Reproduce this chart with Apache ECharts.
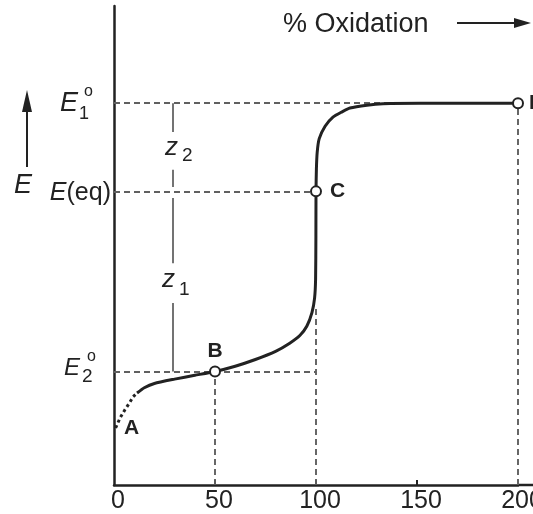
<!DOCTYPE html>
<html>
<head>
<meta charset="utf-8">
<script src="https://cdn.jsdelivr.net/npm/echarts@6/dist/echarts.min.js"></script>
<style>
html,body{margin:0;padding:0;background:#fff;}
#chart{width:533px;height:514px;}
</style>
</head>
<body>
<div id="chart"></div>
<script>
// ---- data (x = % oxidation, E = potential, arbitrary units) ----
const E1 = 79.7;      // E1°
const EEQ = 61.3;     // E(eq)
const E2 = 23.7;      // E2°
const xTickLabels = [0, 50, 100, 150, 200];
const xTickMarks = [50, 100, 150];

// dotted start of curve near A
const dotX = [0.8, 3.0, 5.4, 7.9, 9.4, 11.4];
const dotE = [11.9, 14.0, 15.7, 17.3, 18.4, 19.2];

// solid titration curve
const curveX = [11.4, 15, 20, 30, 40, 50, 60, 70, 80, 87, 92, 95.5, 98, 99.3, 99.8, 99.95, 100, 100.2, 100.6, 101.6, 104.5, 108.4, 112.9, 116.8, 125.2, 133.2, 151.5, 200];
const curveE = [19.2, 20.3, 21.2, 22.1, 22.9, 23.7, 24.8, 26.2, 27.9, 29.6, 31.2, 33.2, 36.0, 39.0, 43.0, 52.0, 61.3, 66.0, 69.5, 72.3, 74.9, 76.8, 77.9, 78.7, 79.3, 79.6, 79.7, 79.7];

// marked points
const pointNames = ['B', 'C', 'D'];
const pointX = [50, 100, 200];
const pointE = [E2, EEQ, E1];

// dashed guide lines: [x1, E1, x2, E2]
const guideLines = [
  [0, E1, 200, E1],
  [200, 0, 200, E1],
  [0, EEQ, 100, EEQ],
  [100, 0, 100, 37],
  [0, E2, 100, E2],
  [50, 0, 50, E2]
];
// z1 / z2 bracket line (x position and segment extents)
const zX = 29.2;
const zSegments = [[E1, 73.7], [65.8, 62.2], [59.9, 46.3], [38.0, E2]];

const FONT = '"Liberation Sans", Arial, sans-serif';
const INK = '#222';

const chart = echarts.init(document.getElementById('chart'), null, {renderer: 'canvas'});

const option = {
  animation: false,
  backgroundColor: '#fff',
  grid: {left: 114, right: 15, top: 6, bottom: 29, containLabel: false, outerBoundsMode: 'none'},
  xAxis: {
    type: 'value', min: 0, max: 200, interval: 50,
    axisLine: {show: true, lineStyle: {color: INK, width: 2.5}},
    axisTick: {show: true, inside: true, length: 5, customValues: xTickMarks, lineStyle: {color: INK, width: 2}},
    axisLabel: {show: true, customValues: xTickLabels, fontSize: 25, color: INK, fontFamily: FONT, margin: 4,
      padding: [0, 0, 0, 8],
      formatter: v => (xTickLabels.indexOf(v) >= 0 ? String(v) : '')},
    splitLine: {show: false}
  },
  yAxis: {
    type: 'value', min: 0, max: 100,
    axisLine: {show: true, lineStyle: {color: INK, width: 2.5}},
    axisTick: {show: false},
    axisLabel: {show: false},
    splitLine: {show: false}
  },
  series: [
    {
      type: 'lines', coordinateSystem: 'cartesian2d', silent: true, z: 1,
      lineStyle: {color: '#606060', width: 1.9, type: [6, 4], opacity: 1},
      data: guideLines.map(g => ({coords: [[g[0], g[1]], [g[2], g[3]]]}))
    },
    {
      type: 'lines', coordinateSystem: 'cartesian2d', silent: true, z: 1,
      lineStyle: {color: '#505050', width: 1.6, type: 'solid', opacity: 1},
      data: zSegments.map(s => ({coords: [[zX, s[0]], [zX, s[1]]]}))
    },
    {
      type: 'line', showSymbol: false, z: 3,
      lineStyle: {color: INK, width: 3, type: [3, 3]},
      data: dotX.map((x, i) => [x, dotE[i]])
    },
    {
      type: 'line', showSymbol: false, smooth: 0.2, z: 3,
      lineStyle: {color: INK, width: 3},
      data: curveX.map((x, i) => [x, curveE[i]])
    },
    {
      type: 'scatter', z: 5, symbol: 'circle', symbolSize: 10,
      itemStyle: {color: '#fff', borderColor: INK, borderWidth: 2, opacity: 1},
      label: {show: true, fontSize: 21, fontWeight: 'bold', color: INK, fontFamily: FONT,
        formatter: p => p.name},
      emphasis: {disabled: true},
      data: pointNames.map((n, i) => {
        const pos = n === 'B' ? 'top' : 'right';
        const dist = n === 'B' ? 4 : (n === 'C' ? 8 : 5);
        return {name: n, value: [pointX[i], pointE[i]], label: {position: pos, distance: dist}};
      })
    },
    {
      type: 'scatter', z: 5, symbolSize: 1, itemStyle: {color: 'rgba(0,0,0,0)', opacity: 1},
      label: {show: true, position: 'right', distance: 8, fontSize: 21, fontWeight: 'bold', color: INK, fontFamily: FONT,
        formatter: 'A'},
      emphasis: {disabled: true},
      data: [[dotX[0], dotE[0]]]
    }
  ]
};
chart.setOption(option);

function px(x, e) { return chart.convertToPixel({gridIndex: 0}, [x, e]); }
function txt(text, x, y, font, align) {
  return {type: 'text', silent: true, z: 10,
    style: {text: text, x: x, y: y, font: font, fill: INK, align: align || 'left', verticalAlign: 'middle'}};
}
const p1 = px(0, E1), pq = px(0, EEQ), p2 = px(0, E2);
const x0 = p1[0];
const pEnd = px(200, 0);
const zTop = px(zX, (E1 + EEQ) / 2), zBot = px(zX, (EEQ + E2) / 2);
const graphics = [
  // x-axis line continues past 200 to the edge
  {type: 'line', silent: true, shape: {x1: pEnd[0], y1: pEnd[1], x2: 533, y2: pEnd[1]}, style: {stroke: INK, lineWidth: 2.5}},
  // y-axis labels
  txt('E', x0 - 54, p1[1] + 0, 'italic 27px ' + FONT),
  txt('1', x0 - 35, p1[1] + 10.5, '18px ' + FONT),
  txt('o', x0 - 30, p1[1] - 12, '16px ' + FONT),
  {type: 'text', silent: true, z: 10, style: {text: '{i|E}{n|(eq)}', x: x0 - 3, y: pq[1] + 2, align: 'right', verticalAlign: 'middle',
    rich: {i: {font: 'italic 25px ' + FONT, fill: INK}, n: {font: '25px ' + FONT, fill: INK}}}},
  txt('E', x0 - 50, p2[1] - 3.5, 'italic 24px ' + FONT),
  txt('2', x0 - 32, p2[1] + 5, '19px ' + FONT),
  txt('o', x0 - 27, p2[1] - 15, '16px ' + FONT),
  // z labels
  txt('z', zTop[0] - 8, zTop[1] + 0, 'italic 26px ' + FONT),
  txt('2', zTop[0] + 9, zTop[1] + 8, '19px ' + FONT),
  txt('z', zBot[0] - 11, zBot[1] - 2, 'italic 26px ' + FONT),
  txt('1', zBot[0] + 6, zBot[1] + 8, '19px ' + FONT),
  // vertical E arrow
  {type: 'line', silent: true, shape: {x1: 27, y1: 167, x2: 27, y2: 108}, style: {stroke: INK, lineWidth: 2}},
  {type: 'polygon', silent: true, shape: {points: [[22, 112], [27, 90], [32, 112]]}, style: {fill: INK}},
  txt('E', 14, 185, 'italic 27px ' + FONT),
  // title with arrow
  txt('% Oxidation', 283, 25, '27px ' + FONT),
  {type: 'line', silent: true, shape: {x1: 457, y1: 23, x2: 518, y2: 23}, style: {stroke: INK, lineWidth: 2}},
  {type: 'polygon', silent: true, shape: {points: [[514, 18], [531, 23], [514, 28]]}, style: {fill: INK}}
];
chart.setOption({graphic: graphics});
</script>
</body>
</html>
